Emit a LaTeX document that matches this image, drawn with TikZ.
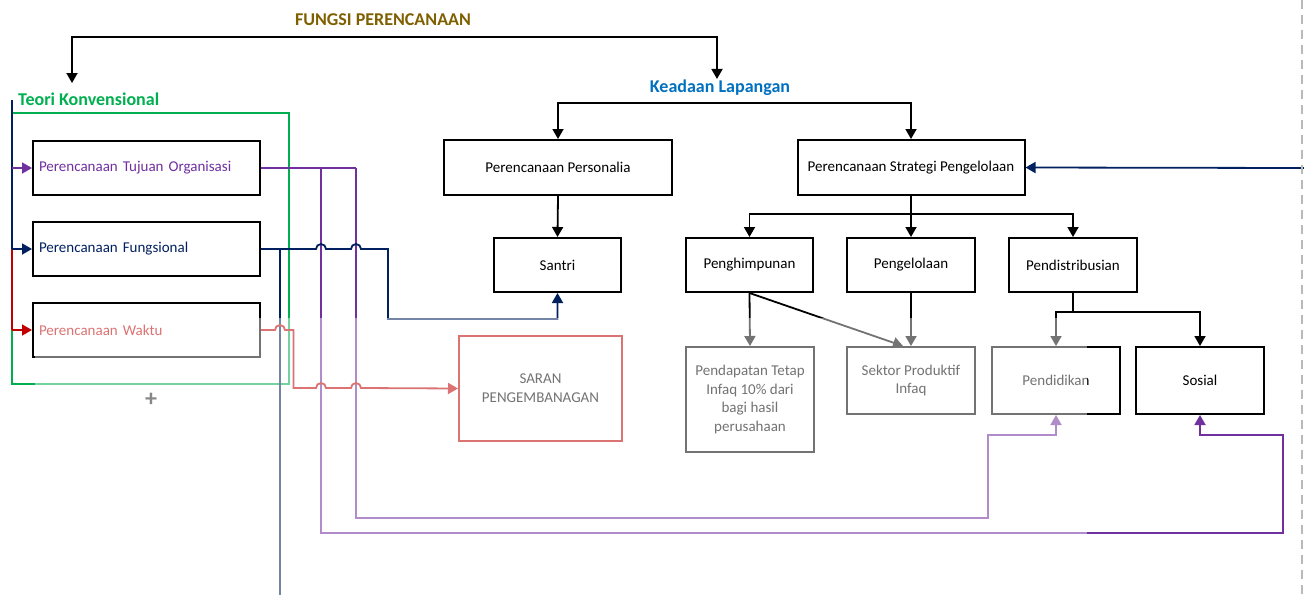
\documentclass[tikz,border=0pt]{standalone}
\usepackage{fontspec}
\setmainfont{Carlito}
\usetikzlibrary{arrows.meta,calc}
\definecolor{cpurple}{HTML}{7030A0}
\definecolor{cnavy}{HTML}{002060}
\definecolor{cred}{HTML}{C00000}
\definecolor{cgreen}{HTML}{00B050}
\definecolor{cblue}{HTML}{0070C0}
\definecolor{colive}{HTML}{7F6000}
\begin{document}
\begin{tikzpicture}[x=1pt,y=1pt,
  box/.style={draw=black, line width=2pt, fill=white, inner sep=0pt, align=center,
    font=\fontsize{15}{18.7}\selectfont},
  lbox/.style={box, align=left, text width=215pt, inner xsep=6pt, minimum height=54pt},
  title/.style={font=\fontsize{18}{20}\selectfont\bfseries, inner sep=1pt},
  conn/.style={line width=1.8pt},
  arr/.style={conn, -{Triangle[length=10pt,width=11pt]}},
]
\fill[white] (0,0) rectangle (1304,-595);
\useasboundingbox (0,0) rectangle (1304,-595);

% headings
\node[title, text=colive] (fungsi) at (383,-20) {FUNGSI PERENCANAAN};
\node[title, text=cgreen, anchor=west] (teori) at (17,-99) {Teori Konvensional};
\node[title, text=cblue] (keadaan) at (720,-88) {Keadaan Lapangan};

% top split
\coordinate (fp) at (383,-37);
\coordinate (ta) at (72,-83);
\draw[arr] (fp) -| (ta);
\draw[arr] (fp) -| ($(keadaan.north)+(-3,0)$);

% conventional group frame
\draw[cgreen, line width=2pt] (12,-113) rectangle (289,-384);
\node[font=\fontsize{24}{24}\selectfont\bfseries, text=black!85] (plus) at (151,-400) {+};

% left-hand boxes
\node[lbox, text=cpurple] (tujuan) at (146.5,-168) {Perencanaan Tujuan Organisasi};
\node[lbox, text=cnavy] (fungsional) at (146.5,-249) {Perencanaan Fungsional};
\node[lbox, text=cred] (waktu) at (146.5,-330) {Perencanaan Waktu};

% spine with branch arrows
\coordinate (sp0) at (12,-100);
\coordinate (sp1) at (12,-168);
\coordinate (sp2) at (12,-249);
\coordinate (sp3) at (12,-330);
\draw[conn, cnavy] (sp0) -- (sp2);
\draw[conn, cred] (sp2) -- (sp3);
\draw[arr, cpurple] (sp1) -- (tujuan.west);
\draw[arr, cnavy] (sp2) -- (fungsional.west);
\draw[arr, cred] (sp3) -- (waktu.west);

% field boxes
\node[box, minimum width=228pt, minimum height=55pt] (personalia) at (558,-167.5) {Perencanaan Personalia};
\node[box, minimum width=227pt, minimum height=55pt] (strategi) at (911,-167.5) {Perencanaan Strategi Pengelolaan};
\node[box, minimum width=127pt, minimum height=54pt] (santri) at (557.5,-265) {Santri};
\node[box, minimum width=127pt, minimum height=54pt] (penghimpunan) at (749.5,-265) {Penghimpunan};
\node[box, minimum width=128pt, minimum height=54pt] (pengelolaan) at (911,-265) {Pengelolaan};
\node[box, minimum width=128pt, minimum height=54pt] (pendistribusian) at (1073,-265) {Pendistribusian};
\node[box, minimum width=128pt, minimum height=105pt] (pendapatan) at (750,-399.5) {Pendapatan Tetap\\Infaq 10\% dari\\bagi hasil\\perusahaan};
\node[box, minimum width=128pt, minimum height=67pt] (sektor) at (911,-380.5) {Sektor Produktif\\Infaq};
\node[box, minimum width=128pt, minimum height=67pt] (pendidikan) at (1056,-380.5) {Pendidikan};
\node[box, minimum width=128pt, minimum height=67pt] (sosial) at (1200,-380.5) {Sosial};
\node[box, draw=cred, minimum width=163pt, minimum height=105pt] (saran) at (540.5,-388.5) {SARAN\\PENGEMBANAGAN};

% field tree
\coordinate (kl) at (720,-103);
\draw[arr] (kl) -| (personalia.north);
\draw[arr] (kl) -| (strategi.north);
\draw[arr] (personalia.south) -- (santri.north);
\coordinate (sj) at (911,-214);
\draw[conn] (strategi.south) -- (sj);
\draw[arr] (sj) -| (penghimpunan.north);
\draw[arr] (sj) -- (pengelolaan.north);
\draw[arr] (sj) -| (pendistribusian.north);
\draw[arr] (penghimpunan.south) -- (pendapatan.north);
\draw[arr] (penghimpunan.south) -- ($(sektor.north)+(-8,0)$);
\draw[arr] (pengelolaan.south) -- (sektor.north);
\coordinate (dj) at (1073,-312);
\draw[conn] (pendistribusian.south) -- (dj);
\draw[arr] (dj) -| (pendidikan.north);
\draw[arr] (dj) -| (sosial.north);
\coordinate (rin) at (1304,-168);
\draw[arr, cnavy] (rin) -- (strategi.east);

% links from the conventional plans
\draw[conn, cpurple] (tujuan.east) -- (356,-168);
\draw[arr, cpurple] (356,-168) -- (356,-518) -- (988,-518) -- (988,-435) -| (pendidikan.south);
\draw[arr, cpurple] (321,-168) -- (321,-533) -- (1283,-533) -- (1283,-435) -| (sosial.south);
\draw[conn, cnavy] (280,-249) -- (280,-595);
\draw[arr, cnavy] (fungsional.east) -- (316,-249) arc (180:0:5) -- (351,-249) arc (180:0:5)
  -- (388,-249) -- (388,-319) -| (santri.south);
\draw[arr, cred] (waktu.east) -- (275,-330) arc (180:0:5) -- (293.5,-330) -- (293.5,-388)
  -- (316,-388) arc (180:0:5) -- (351,-388) arc (180:0:5) -- (saran.west);

% washed-out lower band
\fill[white, opacity=0.45] (35,-318) rectangle (1087,-595);

% page edge
\draw[gray!55, line width=2pt, dash pattern=on 9pt off 6pt] (1302,0) -- (1302,-595);
\end{tikzpicture}
\end{document}
